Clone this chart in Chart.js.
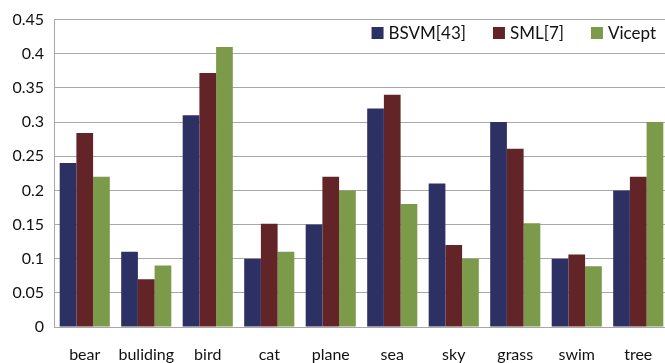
<!DOCTYPE html>
<html>
<head>
<meta charset="utf-8">
<script src="https://cdn.jsdelivr.net/npm/chart.js@4.4.0/dist/chart.umd.min.js"></script>
<style>
  html, body { margin: 0; padding: 0; background: #fff; overflow: hidden; }
  #wrap { position: relative; width: 669px; height: 363px; }
</style>
</head>
<body>
<div id="wrap"><canvas id="chart" width="669" height="363"></canvas></div>
<script>
// Per-category scores for the three methods
const categories = ['bear', 'buliding', 'bird', 'cat', 'plane', 'sea', 'sky', 'grass', 'swim', 'tree'];
const seriesNames = ['BSVM[43]', 'SML[7]', 'Vicept'];
const bsvmValues = [0.24, 0.11, 0.31, 0.10, 0.15, 0.32, 0.21, 0.30, 0.10, 0.20];
const smlValues = [0.284, 0.07, 0.372, 0.151, 0.22, 0.34, 0.12, 0.261, 0.106, 0.22];
const viceptValues = [0.22, 0.09, 0.41, 0.11, 0.20, 0.18, 0.10, 0.152, 0.089, 0.30];
const yTickValues = [0, 0.05, 0.1, 0.15, 0.2, 0.25, 0.3, 0.35, 0.4, 0.45];

const COLORS = ['#2d3062', '#632427', '#7b9b4a'];
const FONT = 'Lato, "Open Sans", sans-serif';
const GRID = '#a8a8a8';

/**
 * Legend drawn inside the plot, right-aligned near the top
 */
const insideLegend = {
    id: 'insideLegend',
    afterDatasetsDraw(chart) {
        const ctx = chart.ctx;
        const box = 12, gap = 5, spacing = 27;
        const y = 33;
        ctx.save();
        ctx.font = '17px ' + FONT;
        ctx.textBaseline = 'middle';
        const items = chart.data.datasets.map(ds => ({
            label: ds.label,
            color: ds.backgroundColor,
            w: ctx.measureText(ds.label).width
        }));
        const total = items.reduce((s, it) => s + box + gap + it.w, 0) + spacing * (items.length - 1);
        let x = 656 - total;
        items.forEach(it => {
            ctx.fillStyle = it.color;
            ctx.fillRect(x, y - box / 2, box, box);
            ctx.fillStyle = '#111';
            ctx.fillText(it.label, x + box + gap, y + 1);
            x += box + gap + it.w + spacing;
        });
        ctx.restore();
    }
};

new Chart(document.getElementById('chart'), {
    type: 'bar',
    data: {
        labels: categories,
        datasets: [
            { label: seriesNames[0], data: bsvmValues, backgroundColor: COLORS[0] },
            { label: seriesNames[1], data: smlValues, backgroundColor: COLORS[1] },
            { label: seriesNames[2], data: viceptValues, backgroundColor: COLORS[2] }
        ]
    },
    options: {
        responsive: false,
        animation: false,
        devicePixelRatio: 1,
        layout: { padding: { top: 15, right: 0, left: 0, bottom: 0 } },
        datasets: {
            bar: { categoryPercentage: 0.815, barPercentage: 1.0, borderWidth: 0 }
        },
        plugins: {
            legend: { display: false },
            tooltip: { enabled: false }
        },
        scales: {
            x: {
                afterFit: (scale) => { scale.height = 36; },
                grid: { display: false },
                border: { display: true, color: GRID, width: 1 },
                ticks: {
                    color: '#111',
                    padding: 10,
                    font: { family: FONT, size: 16 },
                    maxRotation: 0
                }
            },
            y: {
                min: 0,
                max: 0.45,
                afterFit: (scale) => { scale.width = 54; },
                afterBuildTicks: (scale) => {
                    scale.ticks = yTickValues.map(v => ({ value: v }));
                },
                grid: { color: GRID, lineWidth: 1, drawTicks: false },
                border: { display: true, color: GRID, width: 1 },
                ticks: {
                    color: '#111',
                    padding: 10,
                    font: { family: FONT, size: 16 },
                    callback: (v) => String(Number(v.toFixed(2)))
                }
            }
        }
    },
    plugins: [insideLegend]
});
</script>
</body>
</html>
